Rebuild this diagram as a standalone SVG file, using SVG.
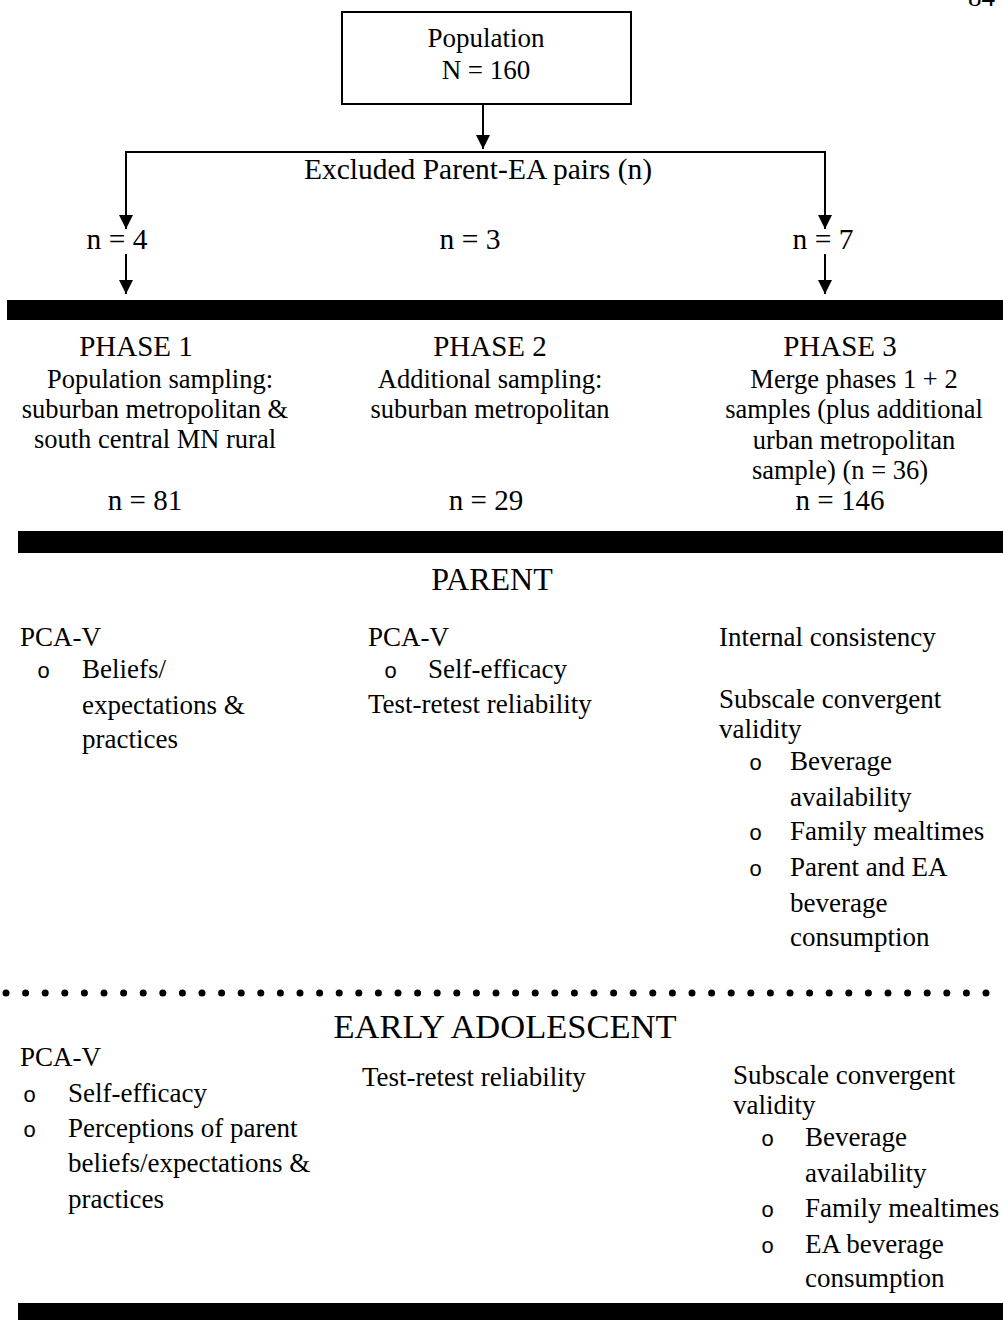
<svg xmlns="http://www.w3.org/2000/svg" width="1003" height="1320" viewBox="0 0 1003 1320">
<defs>
<style>
text{font-family:"Liberation Serif","Times New Roman",serif;fill:#000}
.t{font-size:27px}
.x{font-size:29.5px}
.p{font-size:29px}
.d{font-size:26.5px}
.c{text-anchor:middle}
.b{font-size:27px}
.o{font-family:"Liberation Mono","Courier New",monospace;font-size:22px}
.h{font-size:32px}
.h2{font-size:34.5px}
.ln{stroke:#000;stroke-width:2;fill:none}
.bar{fill:#000}
</style>
<marker id="ah" viewBox="0 0 10 10" refX="10" refY="5" markerWidth="15" markerHeight="14" markerUnits="userSpaceOnUse" orient="auto">
<path d="M0,0 L10,5 L0,10 z" fill="#000"/>
</marker>
</defs>
<rect width="1003" height="1320" fill="#fff"/>
<text class="t" x="968" y="6">84</text>
<g id="population">
<rect x="342" y="12" width="289" height="92" fill="#fff" stroke="#000" stroke-width="2"/>
<text class="t c" x="486" y="47">Population</text>
<text class="t c" x="486" y="79">N = 160</text>
</g>
<g id="connectors">
<line class="ln" x1="483" y1="104" x2="483" y2="149" marker-end="url(#ah)"/>
<polyline class="ln" points="126,229 126,152 825,152 825,229" marker-end="url(#ah)"/>
<line class="ln" x1="126" y1="152" x2="126" y2="229" marker-end="url(#ah)"/>
<line class="ln" x1="126" y1="254" x2="126" y2="294" marker-end="url(#ah)"/>
<line class="ln" x1="825" y1="254" x2="825" y2="294" marker-end="url(#ah)"/>
</g>
<g id="excluded">
<text class="x c" x="478" y="179">Excluded Parent-EA pairs (n)</text>
<text class="x c" x="117" y="249">n = 4</text>
<text class="x c" x="470" y="249">n = 3</text>
<text class="x c" x="823" y="249">n = 7</text>
</g>
<rect class="bar" x="7" y="300" width="996" height="20"/>
<g id="phase1">
<text class="p c" x="136" y="356">PHASE 1</text>
<text class="d c" x="160" y="388">Population sampling:</text>
<text class="d c" x="155" y="418">suburban metropolitan &amp;</text>
<text class="d c" x="155" y="448">south central MN rural</text>
<text class="p c" x="145" y="510">n = 81</text>
</g>
<g id="phase2">
<text class="p c" x="490" y="356">PHASE 2</text>
<text class="d c" x="490" y="388">Additional sampling:</text>
<text class="d c" x="490" y="418">suburban metropolitan</text>
<text class="p c" x="486" y="510">n = 29</text>
</g>
<g id="phase3">
<text class="p c" x="840" y="356">PHASE 3</text>
<text class="d c" x="854" y="388">Merge phases 1 + 2</text>
<text class="d c" x="854" y="418">samples (plus additional</text>
<text class="d c" x="854" y="449">urban metropolitan</text>
<text class="d c" x="840" y="479">sample) (n = 36)</text>
<text class="p c" x="840" y="510">n = 146</text>
</g>
<rect class="bar" x="18" y="531" width="985" height="22"/>
<g id="parent">
<text class="h c" x="492" y="590">PARENT</text>
<g id="parent-col1">
<text class="b" x="20" y="646">PCA-V</text>
<text class="o" x="37" y="678">o</text>
<text class="b" x="82" y="678">Beliefs/</text>
<text class="b" x="82" y="714">expectations &amp;</text>
<text class="b" x="82" y="748">practices</text>
</g>
<g id="parent-col2">
<text class="b" x="368" y="646">PCA-V</text>
<text class="o" x="384" y="678">o</text>
<text class="b" x="428" y="678">Self-efficacy</text>
<text class="b" x="368" y="713">Test-retest reliability</text>
</g>
<g id="parent-col3">
<text class="b" x="719" y="646">Internal consistency</text>
<text class="b" x="719" y="708">Subscale convergent</text>
<text class="b" x="719" y="738">validity</text>
<text class="o" x="749" y="770">o</text>
<text class="b" x="790" y="770">Beverage</text>
<text class="b" x="790" y="806">availability</text>
<text class="o" x="749" y="840">o</text>
<text class="b" x="790" y="840">Family mealtimes</text>
<text class="o" x="749" y="876">o</text>
<text class="b" x="790" y="876">Parent and EA</text>
<text class="b" x="790" y="912">beverage</text>
<text class="b" x="790" y="946">consumption</text>
</g>
</g>
<line x1="6" y1="993" x2="1000" y2="993" stroke="#000" stroke-width="7" stroke-linecap="round" stroke-dasharray="0 19.6"/>
<g id="early-adolescent">
<text class="h2 c" x="505" y="1038">EARLY ADOLESCENT</text>
<g id="ea-col1">
<text class="b" x="20" y="1066">PCA-V</text>
<text class="o" x="23" y="1102">o</text>
<text class="b" x="68" y="1102">Self-efficacy</text>
<text class="o" x="23" y="1137">o</text>
<text class="b" x="68" y="1137">Perceptions of parent</text>
<text class="b" x="68" y="1172">beliefs/expectations &amp;</text>
<text class="b" x="68" y="1208">practices</text>
</g>
<g id="ea-col2">
<text class="b" x="362" y="1086">Test-retest reliability</text>
</g>
<g id="ea-col3">
<text class="b" x="733" y="1084">Subscale convergent</text>
<text class="b" x="733" y="1114">validity</text>
<text class="o" x="761" y="1146">o</text>
<text class="b" x="805" y="1146">Beverage</text>
<text class="b" x="805" y="1182">availability</text>
<text class="o" x="761" y="1217">o</text>
<text class="b" x="805" y="1217">Family mealtimes</text>
<text class="o" x="761" y="1253">o</text>
<text class="b" x="805" y="1253">EA beverage</text>
<text class="b" x="805" y="1287">consumption</text>
</g>
</g>
<rect class="bar" x="18" y="1303" width="985" height="17"/>
</svg>
